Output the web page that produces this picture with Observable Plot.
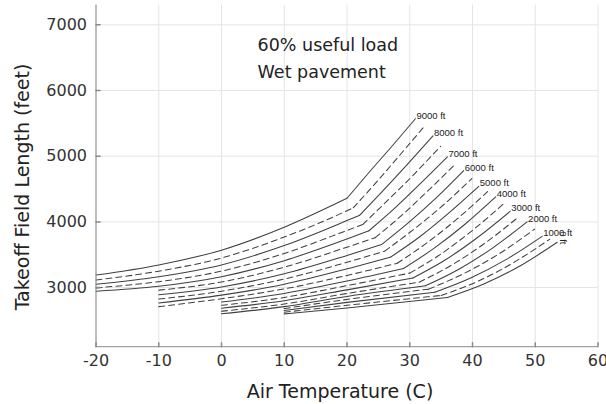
<!DOCTYPE html>
<html><head><meta charset="utf-8">
<script src="https://cdn.jsdelivr.net/npm/d3@7"></script>
<script src="https://cdn.jsdelivr.net/npm/@observablehq/plot@0.6"></script>
<style>
body{margin:0;background:#fff;}
#chart{width:606px;height:404px;}
</style></head><body><div id="chart"></div>
<script>
const xTicks = [-20, -10, 0, 10, 20, 30, 40, 50, 60];
const yTicks = [3000, 4000, 5000, 6000, 7000];
const notes = ["60% useful load", "Wet pavement"];
const xTitle = "Air Temperature (C)";
const yTitle = "Takeoff Field Length (feet)";

const altitudes = [9000, 8500, 8000, 7500, 7000, 6500, 6000, 5500, 5000, 4500, 4000, 3500, 3000, 2500, 2000, 1500, 1000, 500, 0];
const kneeTemps = [20, 21, 22, 22.5, 23.5, 24.5, 25.5, 26, 27, 28, 29, 30, 30.5, 31.5, 32.5, 33, 34, 35, 36];

const c9000 = [[-20,3190],[-10,3345],[0,3570],[10,3920],[20,4360],[23.6,4763],[27.3,5167],[30.9,5570]];
const c8500 = [[-20,3115],[-10,3250],[0,3450],[10,3770],[20,4170],[21,4215],[24.8,4617],[28.5,5026],[32.2,5440]];
const c8000 = [[-20,3050],[-10,3165],[0,3345],[10,3640],[20,4020],[22,4100],[25.9,4491],[29.8,4895],[33.7,5310]];
const c7500 = [[-20,2995],[-10,3090],[0,3250],[10,3520],[20,3870],[22.5,3960],[26.6,4338],[30.8,4736],[34.9,5150]];
const c7000 = [[-20,2945],[-10,3020],[0,3165],[10,3410],[20,3740],[23.5,3865],[27.7,4217],[31.8,4593],[36.0,4990]];
const c6500 = [[-10,2960],[0,3085],[10,3310],[20,3615],[24.5,3760],[28.8,4107],[33.0,4482],[37.3,4885]];
const c6000 = [[-10,2890],[0,3010],[10,3210],[20,3490],[25.5,3655],[29.9,3996],[34.3,4372],[38.6,4780]];
const c5500 = [[-10,2825],[0,2945],[10,3130],[20,3385],[26,3555],[30.6,3884],[35.3,4253],[39.9,4660]];
const c5000 = [[-10,2765],[0,2885],[10,3050],[20,3285],[27,3467],[31.7,3781],[36.3,4140],[41.0,4540]];
const c4500 = [[-10,2710],[0,2830],[10,2980],[20,3185],[28,3370],[32.8,3685],[37.6,4049],[42.4,4460]];
const c4000 = [[0,2780],[10,2910],[20,3100],[29,3290],[33.9,3600],[38.8,3964],[43.7,4380]];
const c3500 = [[0,2730],[10,2850],[20,3030],[30,3220],[35.0,3513],[39.9,3864],[44.9,4270]];
const c3000 = [[0,2685],[10,2800],[20,2965],[30.5,3145],[35.7,3423],[40.8,3762],[46.0,4160]];
const c2500 = [[0,2640],[10,2750],[20,2910],[31.5,3082],[36.8,3350],[42.1,3684],[47.4,4080]];
const c2000 = [[0,2600],[10,2710],[20,2865],[32.5,3027],[37.9,3284],[43.3,3609],[48.7,4000]];
const c1500 = [[10,2680],[20,2820],[33,2976],[38.6,3213],[44.3,3518],[49.9,3890]];
const c1000 = [[10,2650],[20,2775],[34,2929],[39.7,3145],[45.4,3429],[51.1,3780]];
const c500  = [[10,2625],[20,2730],[35,2880],[40.8,3093],[46.5,3378],[52.3,3735]];
const c0    = [[10,2600],[20,2690],[36,2850],[41.8,3055],[47.7,3336],[53.5,3690]];

const curves = [c9000, c8500, c8000, c7500, c7000, c6500, c6000, c5500, c5000, c4500, c4000, c3500, c3000, c2500, c2000, c1500, c1000, c500, c0];

const rows = [];
const labelRows = [];
altitudes.forEach((alt, i) => {
  const pts = curves[i], k = kneeTemps[i];
  const dashed = alt % 1000 !== 0;
  pts.filter(p => p[0] <= k).forEach(p => rows.push({T: p[0], L: p[1], seg: alt + "a", dashed}));
  pts.filter(p => p[0] >= k).forEach(p => rows.push({T: p[0], L: p[1], seg: alt + "b", dashed}));
  if (!dashed) {
    const e = pts[pts.length - 1];
    labelRows.push({T: e[0], L: e[1], alt, label: alt + " ft"});
  }
});

const tickUp = {draw(ctx, l) { ctx.moveTo(0, 0); ctx.lineTo(0, -l); }};
const fmt = d => String(d);
const labelFont = "'Liberation Sans', Arial, sans-serif";

const plot = Plot.plot({
  width: 606, height: 404,
  marginLeft: 95.5, marginRight: 8.5, marginTop: 4.6, marginBottom: 57.8,
  x: {domain: [-20, 60]},
  y: {domain: [2100, 7300]},
  style: {fontFamily: "'DejaVu Sans', sans-serif", background: "white", overflow: "visible"},
  marks: [
    Plot.gridX(xTicks, {stroke: "#e4e4e4", strokeOpacity: 1}),
    Plot.gridY(yTicks, {stroke: "#e4e4e4", strokeOpacity: 1}),
    Plot.line(rows.filter(d => !d.dashed), {x: "T", y: "L", z: "seg", curve: "monotone-x", stroke: "#404040", strokeWidth: 1.05}),
    Plot.line(rows.filter(d => d.dashed), {x: "T", y: "L", z: "seg", curve: "monotone-x", stroke: "#404040", strokeWidth: 1.05, strokeDasharray: "6,4"}),
    Plot.text(labelRows.filter(d => d.alt !== 0), {x: "T", y: "L", text: "label", textAnchor: "start", dx: 1, dy: -3, fontSize: 9.5, fill: "#222", fontFamily: labelFont}),
    Plot.text(labelRows.filter(d => d.alt === 0), {x: "T", y: "L", text: "label", textAnchor: "start", rotate: 90, dx: 6, dy: -11, fontSize: 9.5, fill: "#222", fontFamily: labelFont}),
    Plot.text(notes, {x: 5.75, y: (d, i) => i === 0 ? 6690 : 6279, text: d => d, textAnchor: "start", fontSize: 17.5, fill: "#222"}),
    Plot.ruleY([2100], {stroke: "#8a8a8a"}),
    Plot.ruleX([-20], {stroke: "#8a8a8a"}),
    Plot.vector(xTicks, {x: d => d, frameAnchor: "bottom", length: 4, rotate: 0, anchor: "start", shape: tickUp, stroke: "#8a8a8a"}),
    Plot.vector(yTicks, {y: d => d, frameAnchor: "left", length: 4, rotate: 90, anchor: "start", shape: tickUp, stroke: "#8a8a8a"}),
    Plot.axisX(xTicks, {tickSize: 0, tickPadding: 8, fontSize: 16, fill: "#333", label: null, tickFormat: fmt}),
    Plot.axisY(yTicks, {tickSize: 0, tickPadding: 9, fontSize: 16, fill: "#333", label: null, tickFormat: fmt})
  ]
});

const svg = d3.select(plot);
svg.append("text")
  .attr("transform", "translate(22,187) rotate(-90)")
  .attr("text-anchor", "middle").attr("dy", "0.35em")
  .attr("font-size", 19).attr("fill", "#222")
  .text(yTitle);
svg.append("text")
  .attr("x", 340).attr("y", 398)
  .attr("text-anchor", "middle")
  .attr("font-size", 19).attr("fill", "#222")
  .text(xTitle);

document.getElementById("chart").appendChild(plot);
</script>
</body></html>
